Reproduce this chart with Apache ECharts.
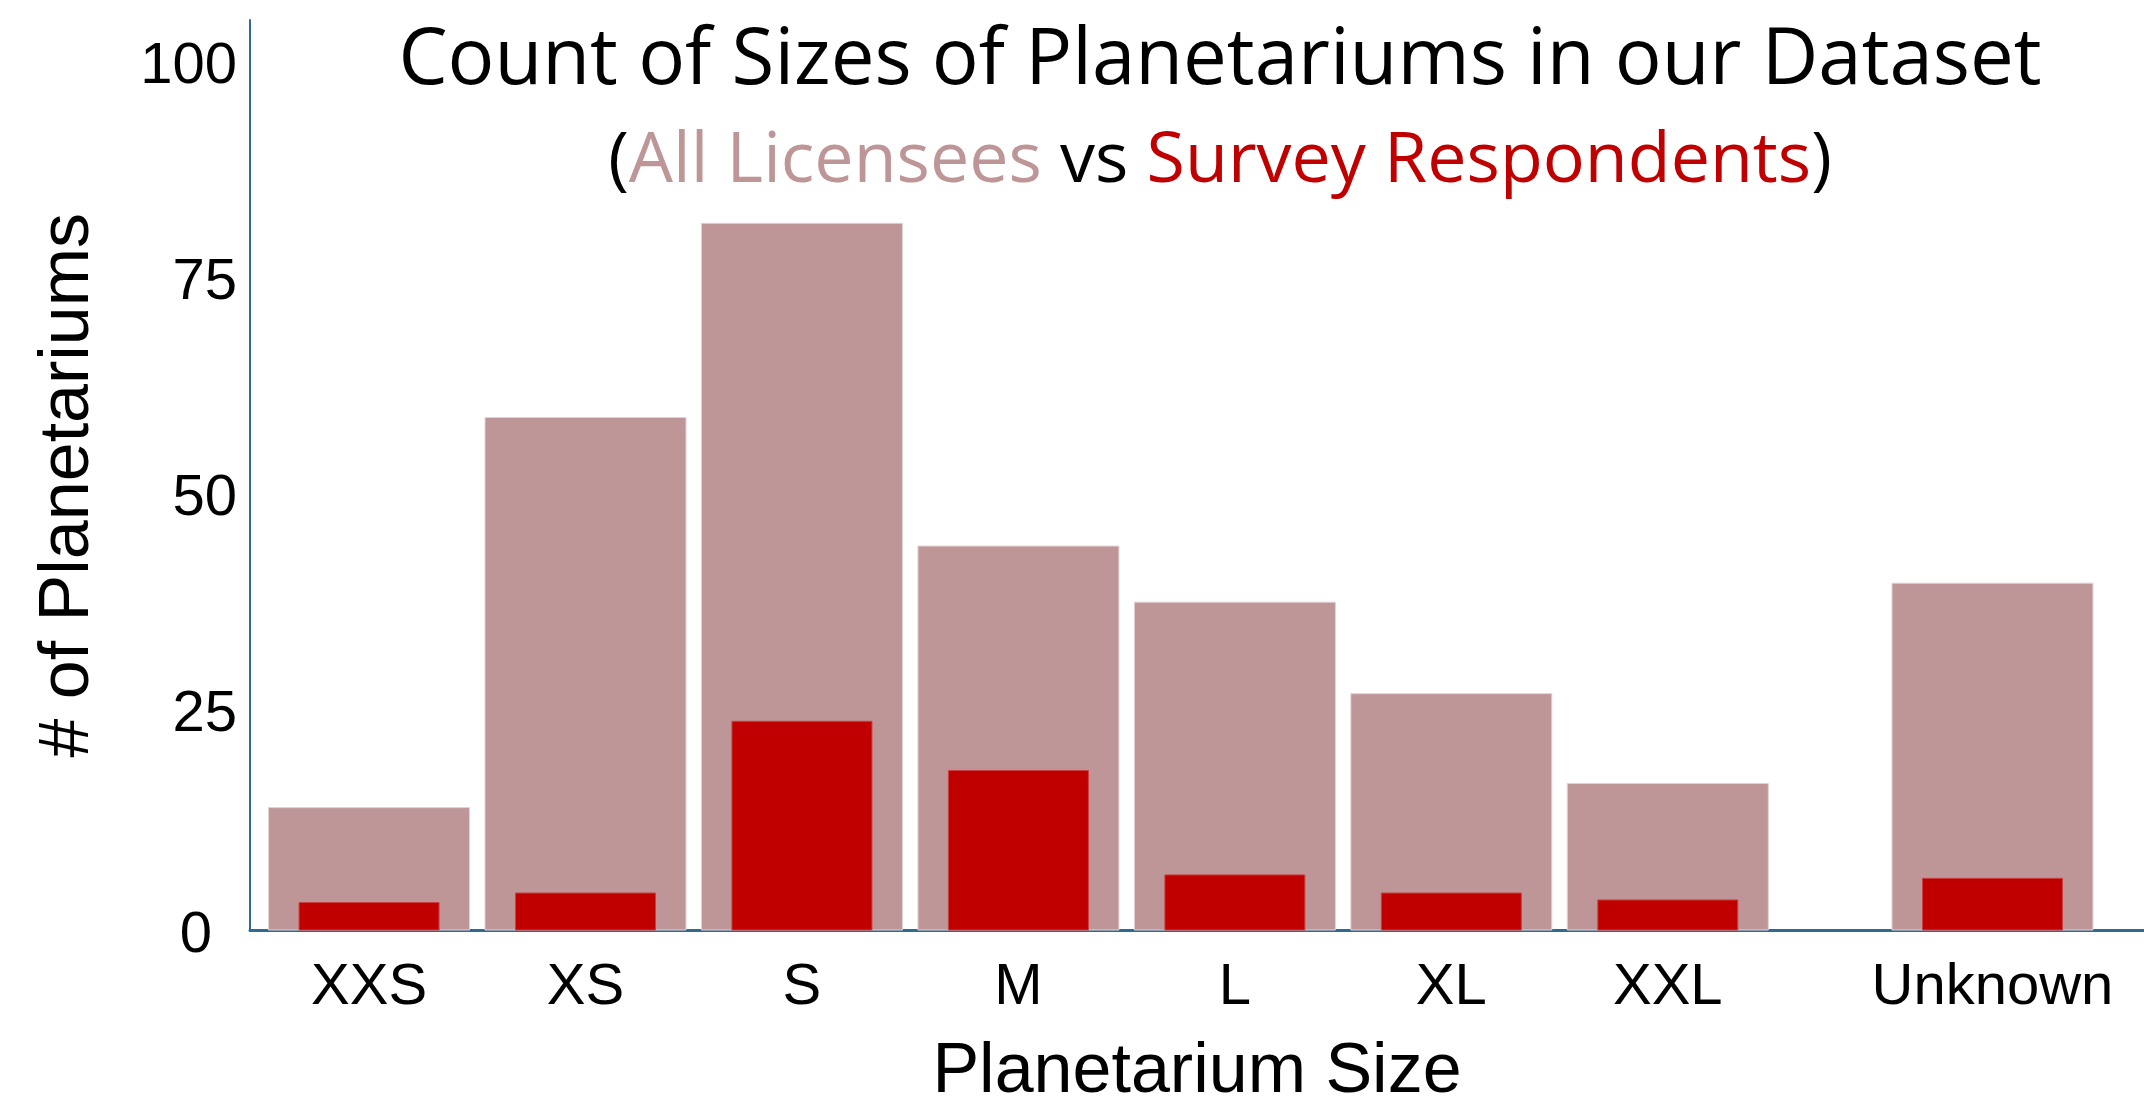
<!DOCTYPE html>
<html>
<head>
<meta charset="utf-8">
<script src="https://cdn.jsdelivr.net/npm/echarts@6/dist/echarts.min.js"></script>
<style>
html,body{margin:0;padding:0;background:#fff;}
#chart{width:2144px;height:1116px;}
</style>
</head>
<body>
<div id="chart"></div>
<script>
// ---- data ----
var categories = ['XXS', 'XS', 'S', 'M', 'L', 'XL', 'XXL', 'Unknown'];
var categoryPositions = [1, 2, 3, 4, 5, 6, 7, 8.5];
var allLicensees = [14.3, 59.5, 82, 44.6, 38.1, 27.5, 17.1, 40.3];
var surveyRespondents = [3.3, 4.4, 24.3, 18.6, 6.5, 4.4, 3.6, 6.1];
var yTickValues = [0, 25, 50, 75, 100];

var titleText = 'Count of Sizes of Planetariums in our Dataset';
var xAxisTitle = 'Planetarium Size';
var yAxisTitle = '# of Planetariums';

var PINK = '#BF9697';
var RED = '#C00000';
var AXIS = '#2F6B8F';

function pairs(xs, ys) { return xs.map(function (x, i) { return [x, ys[i]]; }); }
function catName(v) {
  for (var i = 0; i < categoryPositions.length; i++) {
    if (Math.abs(categoryPositions[i] - v) < 1e-6) return categories[i];
  }
  return '';
}

var chart = echarts.init(document.getElementById('chart'), null, {renderer: 'canvas'});
var xCommon = {
  type: 'value', min: 0.45, max: 9.2,
  splitLine: {show: false}, axisTick: {show: false}
};
chart.setOption({
  animation: false,
  backgroundColor: '#ffffff',
  title: [{
    text: titleText,
    left: 1215, top: 18, textAlign: 'center',
    textStyle: {fontFamily: 'Open Sans', fontSize: 78, fontWeight: 'normal', color: '#000'}
  }, {
    text: '{b|(}{p|All Licensees}{b| vs }{r|Survey Respondents}{b|)}',
    left: 1215, top: 122, textAlign: 'center',
    textStyle: {
      fontFamily: 'Open Sans', fontSize: 70, fontWeight: 'normal',
      rich: {
        b: {fontFamily: 'Open Sans', fontSize: 70, color: '#000'},
        p: {fontFamily: 'Open Sans', fontSize: 70, color: PINK},
        r: {fontFamily: 'Open Sans', fontSize: 70, color: RED}
      }
    }
  }],
  grid: {left: 250, right: 0, top: 20, bottom: 185.5, containLabel: false},
  xAxis: [
    Object.assign({}, xCommon, {
      axisLine: {show: true, lineStyle: {color: AXIS, width: 3}},
      axisLabel: {
        customValues: categoryPositions,
        formatter: function (v) { return catName(v); },
        fontFamily: 'Liberation Sans', fontSize: 58, color: '#000', margin: 28
      },
      name: xAxisTitle, nameLocation: 'middle', nameGap: 107,
      nameTextStyle: {fontFamily: 'Liberation Sans', fontSize: 70, color: '#000'}
    }),
    Object.assign({}, xCommon, {
      show: false
    })
  ],
  yAxis: {
    type: 'value', min: 0, max: 105.5, interval: 25,
    splitLine: {show: false}, axisTick: {show: false},
    axisLine: {show: true, lineStyle: {color: AXIS, width: 2}},
    axisLabel: {
      customValues: yTickValues,
      formatter: function (v) { return v === 0 ? '{z|0}' : String(v); },
      fontFamily: 'Liberation Sans', fontSize: 58, color: '#000', margin: 13,
      rich: {z: {fontFamily: 'Liberation Sans', fontSize: 58, color: '#000', padding: [10, 25, 0, 0]}}
    },
    name: yAxisTitle, nameLocation: 'middle', nameGap: 146, nameRotate: 90,
    nameTextStyle: {fontFamily: 'Liberation Sans', fontSize: 70, color: '#000', padding: [0, 20, 0, 0]}
  },
  series: [{
    name: 'All Licensees', type: 'bar', xAxisIndex: 0,
    barWidth: 202,
    itemStyle: {color: PINK, borderColor: '#E4D2D2', borderWidth: 1},
    data: pairs(categoryPositions, allLicensees)
  }, {
    name: 'Survey Respondents', type: 'bar', xAxisIndex: 1,
    barWidth: 141,
    itemStyle: {color: RED, borderColor: '#CC4040', borderWidth: 1},
    data: pairs(categoryPositions, surveyRespondents)
  }]
});
</script>
</body>
</html>
